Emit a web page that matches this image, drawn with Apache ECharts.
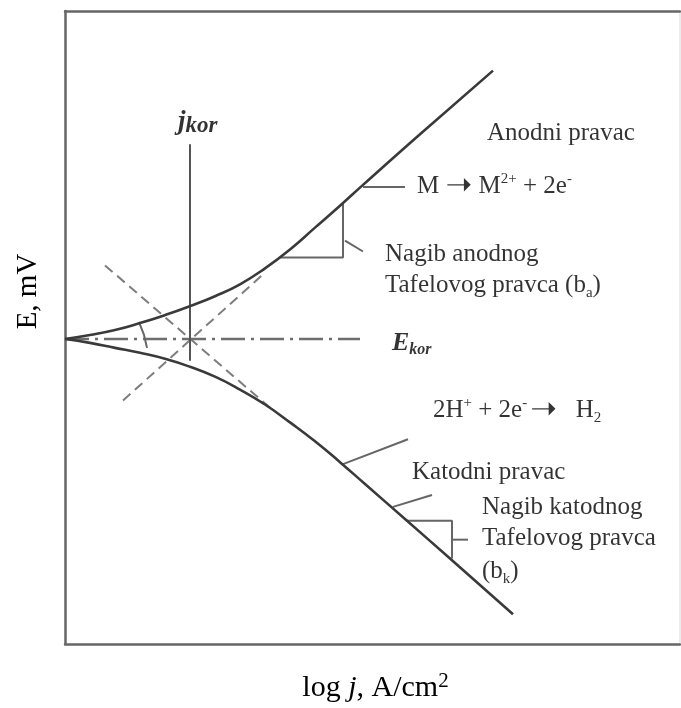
<!DOCTYPE html>
<html><head><meta charset="utf-8">
<script src="https://cdn.jsdelivr.net/npm/echarts@6/dist/echarts.min.js"></script>
<style>html,body{margin:0;padding:0;background:#fff}#c{width:681px;height:708px}</style>
</head><body><div id="c"></div>
<script>
// Schematic Tafel plot: x = log j (arbitrary units), y = E (mV, relative to E_kor)
const anodicLogJ   = [0, 25, 50, 75, 100, 125, 150, 175, 200, 225, 250, 275, 298, 355, 428];
const anodicE      = [0, 4, 9, 16, 24, 33, 43, 55, 71, 90, 112, 134, 155, 206, 270];
const cathodicLogJ = [0, 25, 50, 75, 100, 125, 150, 175, 200, 225, 250, 275, 300, 342, 385, 448];
const cathodicE    = [0, -4, -9, -14, -20, -28, -38, -51, -66, -84, -103, -124, -146, -183, -221, -277];

// Tafel extrapolations and reference lines (endpoints)
const anodicTafel   = [[58, -62], [197, 64]];
const cathodicTafel = [[40, 74], [207, -71]];
const eKorLine      = [[0, 0], [295, 0]];
const jKorLine      = [[125, 196], [125, -22]];

// Annotation strokes (triangles and pointers)
const guides = [
  [[74, 17], [79, 4], [82, -9]],
  [[215, 82], [278, 82], [278, 136]],
  [[280, 99], [298, 88]],
  [[298, 153], [340, 153]],
  [[278, -126], [343, -101]],
  [[328, -169], [367, -157]],
  [[342, -183], [387, -183], [387, -221]],
  [[387, -202], [403, -202]]
];

// Text annotations
const labelPos = [[422, 207], [352, 153], [320, 85], [320, 54], [327, -4], [368, -72], [347, -134], [417, -170], [417, -201], [417, -234], [113, 218]];
const labelText = [
  '{n|Anodni pravac}',
  '{n|M }{ar|➝}{n| M}{sup|2+}{n| + 2e}{sup|-}',
  '{n|Nagib anodnog}',
  '{n|Tafelovog pravca (b}{sub|a}{n|)}',
  '{bi|E}{bisub|kor}',
  '{n|2H}{sup|+}{n| + 2e}{sup|-}{sp| }{ar|➝}{n|   H}{sub|2}',
  '{n|Katodni pravac}',
  '{n|Nagib katodnog}',
  '{n|Tafelovog pravca}',
  '{n|(b}{sub|k}{n|)}',
  '{bj|j}{bjsub|kor}'
];

const serif = 'Liberation Serif';
const ink = '#000';
const rich = {
  n: {fontFamily: serif, fontSize: 25, lineHeight: 30, color: ink},
  sp: {fontFamily: serif, fontSize: 12, lineHeight: 30, color: ink},
  sup: {fontFamily: serif, fontSize: 15, lineHeight: 20, verticalAlign: 'top', color: ink},
  sub: {fontFamily: serif, fontSize: 15, lineHeight: 15, verticalAlign: 'bottom', color: ink},
  ar: {fontFamily: 'DejaVu Sans', fontSize: 32, lineHeight: 30, color: ink},
  bi: {fontFamily: serif, fontSize: 26, fontStyle: 'italic', fontWeight: 'bold', lineHeight: 30, color: ink},
  bisub: {fontFamily: serif, fontSize: 16, fontStyle: 'italic', fontWeight: 'bold', lineHeight: 16, verticalAlign: 'bottom', color: ink},
  bj: {fontFamily: serif, fontSize: 27, fontStyle: 'italic', fontWeight: 'bold', lineHeight: 30, color: ink},
  bjsub: {fontFamily: serif, fontSize: 23, fontStyle: 'italic', fontWeight: 'bold', lineHeight: 25, verticalAlign: 'bottom', color: ink}
};

const zip = (a, b) => a.map((v, i) => [v, b[i]]);
const seg = (pts, color, width, type) => ({
  type: 'line', data: pts, symbol: 'none', silent: true, smooth: false,
  lineStyle: {color: color, width: width, type: type || 'solid'}, z: 3
});

const series = [
  seg(anodicTafel, '#7d7d7d', 2, [10, 6]),
  seg(cathodicTafel, '#7d7d7d', 2, [10, 6]),
  seg(eKorLine, '#6e6e6e', 2.5, [24, 6, 3, 6]),
  seg(jKorLine, '#555', 2),
  ...guides.map(g => seg(g, '#666', 2)),
  Object.assign(seg(zip(anodicLogJ, anodicE), '#3a3a3a', 2.6), {smooth: 0.5, z: 4}),
  Object.assign(seg(zip(cathodicLogJ, cathodicE), '#3a3a3a', 2.6), {smooth: 0.5, z: 4}),
  {
    type: 'scatter', symbolSize: 0, silent: true, z: 5,
    data: labelPos,
    label: {
      show: true, position: 'right', distance: 0,
      formatter: p => labelText[p.dataIndex],
      rich: rich
    }
  }
];

const chart = echarts.init(document.getElementById('c'), null, {renderer: 'canvas'});
chart.setOption({
  animation: false,
  backgroundColor: '#fff',
  grid: {left: 65, right: 1, top: 11, bottom: 60, containLabel: false},
  xAxis: [
    {
      type: 'value', min: 0, max: 615, position: 'bottom',
      axisLine: {show: true, onZero: false, lineStyle: {color: '#666', width: 2.5}},
      axisTick: {show: false}, axisLabel: {show: false}, splitLine: {show: false},
      name: '{n|log }{i|j}{n|, A/cm}{s|2}', nameLocation: 'middle', nameGap: 27,
      nameTextStyle: {
        padding: [0, 0, 0, 6],
        rich: {
          n: {fontFamily: serif, fontSize: 30, color: ink, lineHeight: 34},
          i: {fontFamily: serif, fontSize: 30, fontStyle: 'italic', color: ink, lineHeight: 34},
          s: {fontFamily: serif, fontSize: 21, color: ink, lineHeight: 24, verticalAlign: 'top'}
        }
      }
    },
    {
      type: 'value', min: 0, max: 615, position: 'top',
      axisLine: {show: true, onZero: false, lineStyle: {color: '#666', width: 2.5}},
      axisTick: {show: false}, axisLabel: {show: false}, splitLine: {show: false}
    }
  ],
  yAxis: [
    {
      type: 'value', min: -307, max: 330, position: 'left',
      axisLine: {show: true, onZero: false, lineStyle: {color: '#666', width: 2.5}},
      axisTick: {show: false}, axisLabel: {show: false}, splitLine: {show: false},
      name: 'E, mV', nameLocation: 'middle', nameGap: 22,
      nameTextStyle: {fontFamily: serif, fontSize: 29, color: ink, padding: [0, 0, 0, 72]}
    },
    {
      type: 'value', min: -307, max: 330, position: 'right',
      axisLine: {show: true, onZero: false, lineStyle: {color: '#e6e6e6', width: 1.5}},
      axisTick: {show: false}, axisLabel: {show: false}, splitLine: {show: false}
    }
  ],
  series: series
});
</script></body></html>
